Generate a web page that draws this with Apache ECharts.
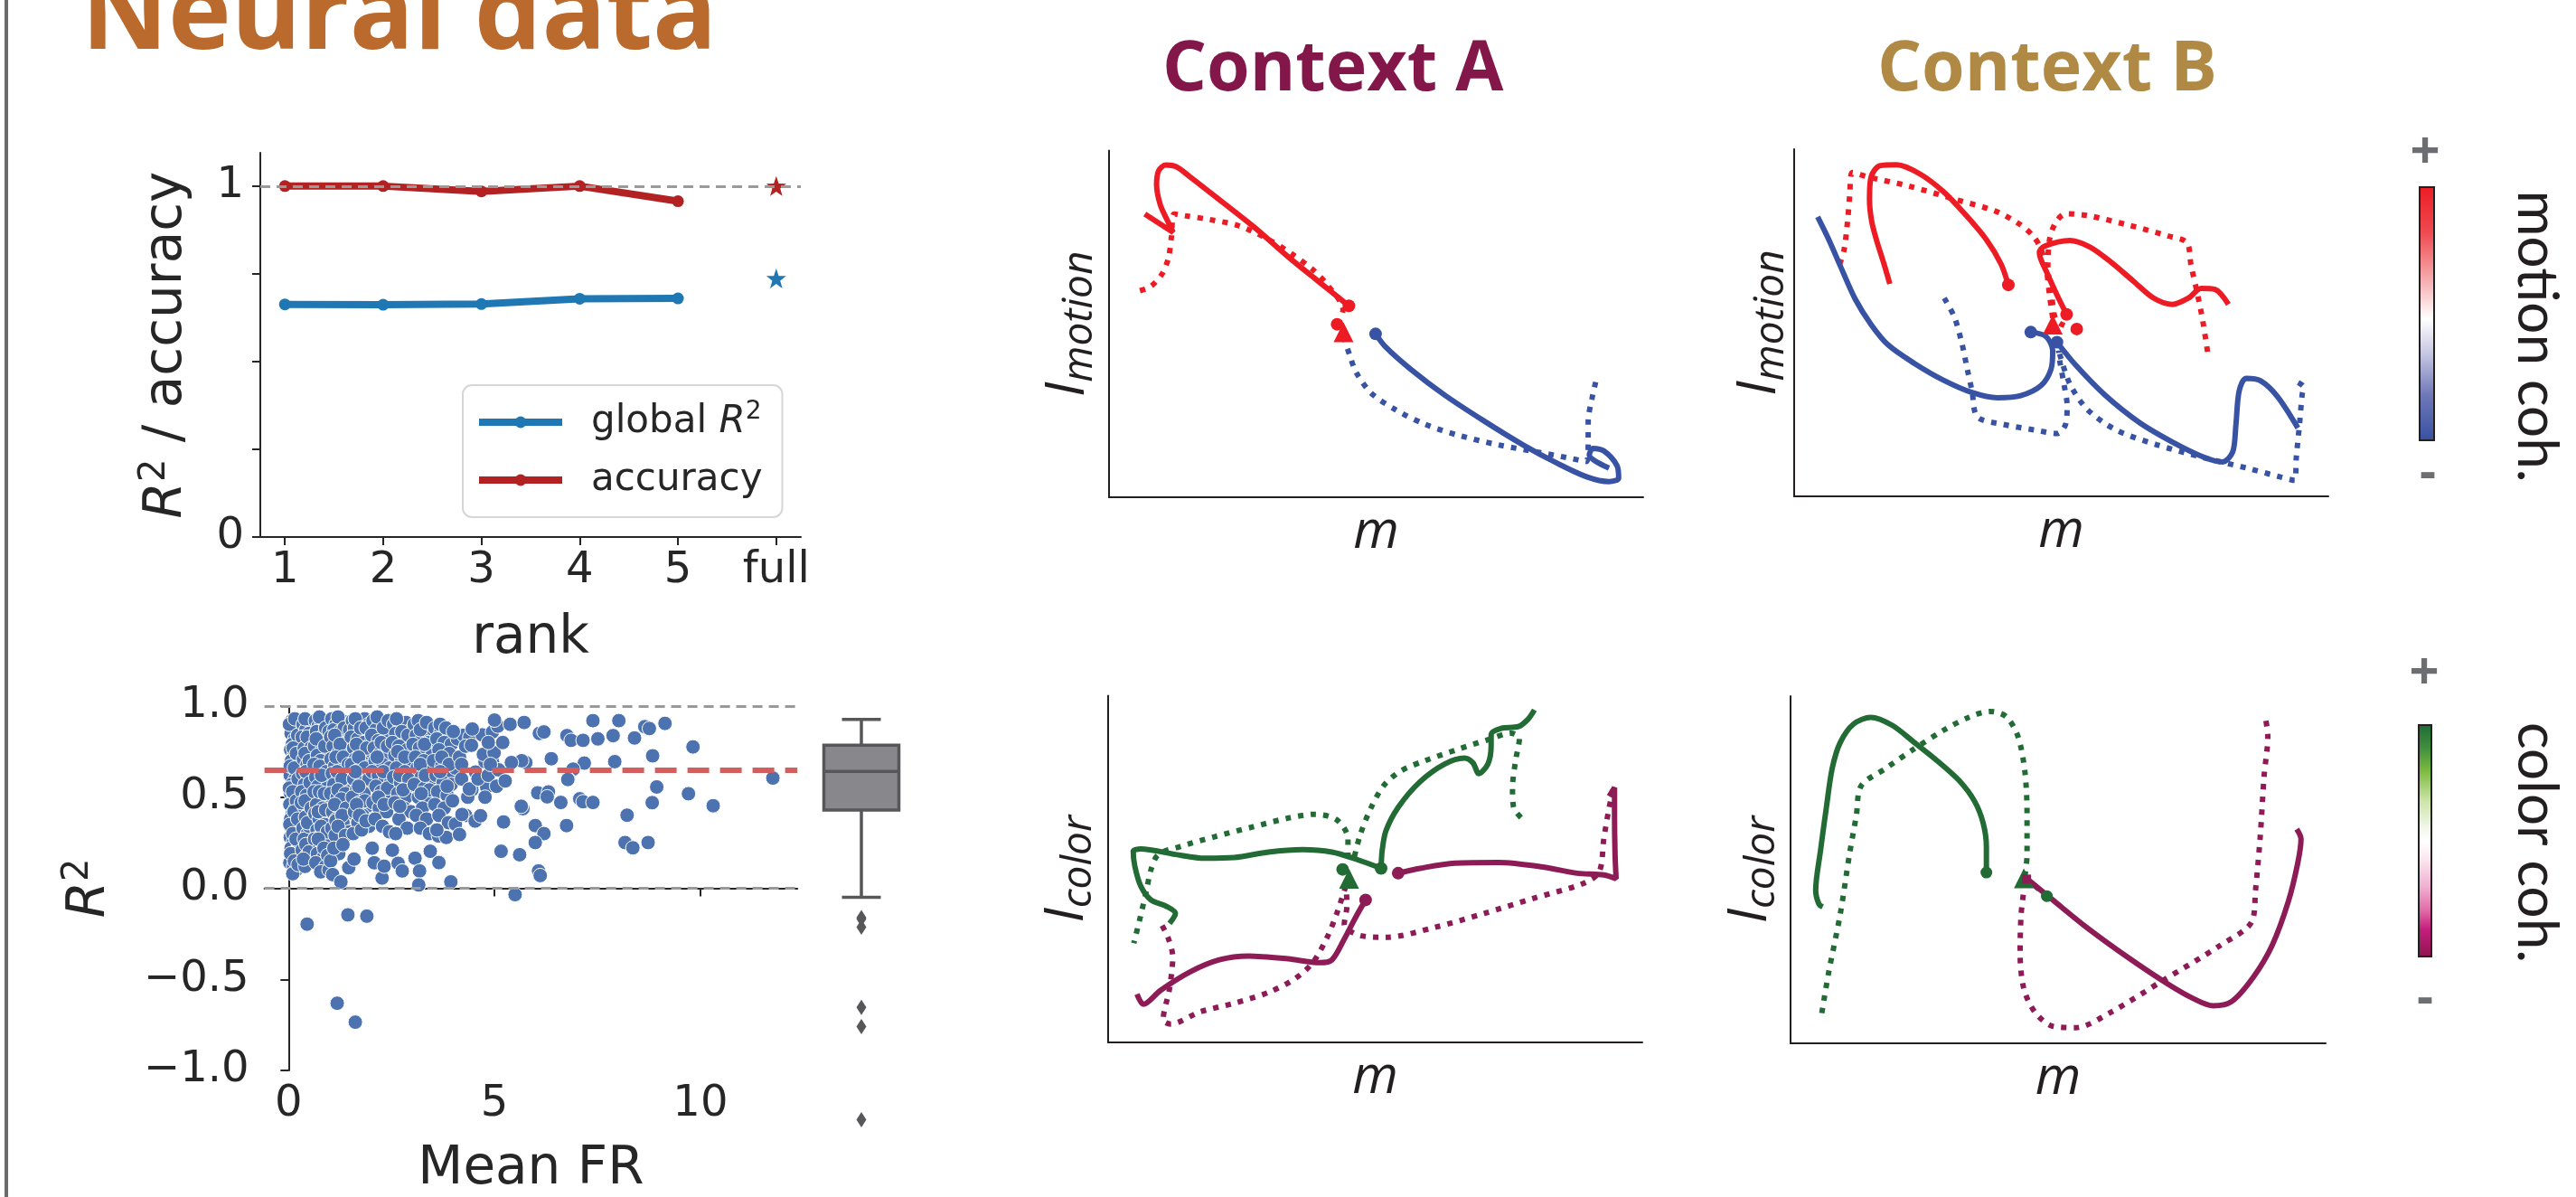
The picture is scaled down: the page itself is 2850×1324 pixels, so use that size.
<!DOCTYPE html>
<html>
<head>
<meta charset="utf-8">
<script src="https://cdn.jsdelivr.net/npm/echarts/dist/echarts.min.js"></script>
<style>
html,body{margin:0;padding:0;background:#fff}
#chart{width:2850px;height:1324px}
</style>
</head>
<body>
<div id="chart"></div>
<script>
// ---------- rank sweep (top-left) ----------
const rankTicks = [1, 2, 3, 4, 5, 6];
const rankLabels = ['1', '2', '3', '4', '5', 'full'];
const ranks = [1, 2, 3, 4, 5];
const globalR2 = [0.663, 0.662, 0.664, 0.679, 0.680];
const accuracy = [1.0, 1.0, 0.985, 1.0, 0.957];
const fullRank = 6;
const fullGlobalR2 = 0.737;
const fullAccuracy = 1.0;
const rankYTicks = [0, 0.25, 0.5, 0.75, 1];
const rankYLabels = [0, 1];

// ---------- per-neuron fit quality (bottom-left): [mean firing rate, R2] ----------
const neuronFits = [
  [0.08,0.92],[0.12,0.88],[0.06,0.85],[0.15,0.82],[0.09,0.79],[0.2,0.9],[0.05,0.76],[0.13,0.73],[0.07,0.7],[0.18,0.68],
  [0.1,0.65],[0.04,0.62],[0.16,0.6],[0.08,0.57],[0.21,0.55],[0.05,0.52],[0.12,0.49],[0.03,0.46],[0.17,0.44],[0.09,0.41],
  [0.05,0.38],[0.14,0.36],[0.07,0.33],[0.2,0.31],[0.04,0.28],[0.11,0.25],[0.06,0.22],[0.16,0.2],[0.08,0.17],[0.03,0.14],
  [0.12,0.12],[0.18,0.1],[0.1,0.08],[0.25,0.86],[0.28,0.78],[0.24,0.71],[0.27,0.63],[0.23,0.5],[0.29,0.42],[0.26,0.34],
  [0.22,0.26],[0.27,0.18],[0.3,0.92],[0.02,0.9],[0.04,0.67],[0.02,0.55],[0.03,0.35],[0.05,0.19],
  [0.15,0.93],[0.22,0.84],[0.11,0.77],[0.19,0.74],[0.14,0.66],[0.23,0.6],[0.1,0.53],[0.19,0.48],[0.13,0.42],[0.22,0.38],
  [0.1,0.3],[0.18,0.27],[0.14,0.15],[0.23,0.13],
  [0.35,0.9],[0.42,0.87],[0.33,0.83],[0.48,0.8],[0.38,0.77],[0.52,0.74],[0.36,0.71],[0.45,0.68],[0.55,0.66],[0.34,0.63],
  [0.47,0.6],[0.39,0.57],[0.58,0.55],[0.32,0.53],[0.44,0.51],[0.53,0.48],[0.37,0.45],[0.49,0.42],[0.41,0.39],[0.56,0.37],
  [0.35,0.33],[0.46,0.3],[0.38,0.27],[0.52,0.24],[0.33,0.21],[0.44,0.18],[0.57,0.15],[0.4,0.12],[0.55,0.91],[0.5,0.85],
  [0.58,0.79],[0.31,0.47],[0.5,0.34],
  [0.4,0.93],[0.45,0.83],[0.54,0.77],[0.4,0.74],[0.5,0.7],[0.42,0.64],[0.52,0.58],[0.4,0.48],[0.55,0.44],[0.46,0.36],
  [0.42,0.24],[0.5,0.2],[0.36,0.16],
  [0.65,0.92],[0.72,0.89],[0.8,0.91],[0.68,0.86],[0.85,0.84],[0.75,0.81],[0.92,0.8],[0.63,0.78],[0.82,0.76],[0.7,0.73],
  [0.95,0.72],[0.78,0.7],[0.62,0.68],[0.88,0.67],[0.73,0.64],[0.97,0.63],[0.66,0.61],[0.84,0.59],[0.71,0.56],[0.93,0.55],
  [0.62,0.53],[0.79,0.51],[0.9,0.48],[0.68,0.46],[0.83,0.44],[0.64,0.41],[0.96,0.4],[0.74,0.38],[0.87,0.35],[0.69,0.32],
  [0.81,0.3],[0.63,0.27],[0.92,0.26],[0.76,0.23],[0.7,0.19],[0.85,0.17],[0.66,0.14],[0.9,0.12],[0.78,0.09],[0.98,0.1],
  [0.75,0.94],[0.9,0.88],[0.98,0.86],[0.67,0.82],[0.88,0.78],[0.76,0.67],[0.92,0.64],[0.8,0.62],[0.75,0.53],[0.87,0.52],
  [0.72,0.42],[0.9,0.43],[0.79,0.34],[0.94,0.31],[0.72,0.27],[0.86,0.22],[0.95,0.18],
  [1.05,0.93],[1.15,0.9],[1.3,0.92],[1.42,0.9],[1.1,0.87],[1.25,0.86],[1.38,0.84],[1.02,0.83],[1.18,0.81],[1.45,0.8],
  [1.08,0.78],[1.3,0.77],[1.2,0.74],[1.4,0.73],[1.03,0.71],[1.27,0.7],[1.12,0.67],[1.35,0.66],[1.47,0.64],[1.06,0.63],
  [1.22,0.61],[1.4,0.59],[1.1,0.57],[1.3,0.55],[1.45,0.53],[1.02,0.52],[1.18,0.5],[1.36,0.48],[1.25,0.45],[1.07,0.42],
  [1.42,0.41],[1.16,0.38],[1.32,0.36],[1.05,0.33],[1.48,0.31],[1.22,0.3],[1.15,0.37],[1.13,0.29],[1.22,0.19],[1.02,0.15],
  [1.07,0.075],[1.27,0.035],[1.46,0.113],
  [1.2,0.94],[1.35,0.88],[1.12,0.84],[1.48,0.87],[1.25,0.79],[1.15,0.72],[1.33,0.72],[1.45,0.68],[1.18,0.64],[1.3,0.6],
  [1.2,0.54],[1.38,0.52],[1.28,0.49],[1.12,0.46],[1.4,0.44],[1.3,0.4],[1.2,0.34],[1.38,0.29],[1.1,0.22],[1.32,0.24],
  [1.55,0.92],[1.7,0.91],[1.85,0.93],[1.95,0.9],[1.6,0.88],[1.78,0.86],[1.9,0.85],[1.52,0.83],[1.68,0.82],[1.83,0.8],
  [1.98,0.79],[1.58,0.77],[1.75,0.75],[1.92,0.73],[1.62,0.71],[1.8,0.69],[1.53,0.68],[1.97,0.67],[1.7,0.65],[1.86,0.62],
  [1.58,0.6],[1.76,0.58],[1.93,0.56],[1.65,0.54],[1.83,0.52],[1.55,0.5],[1.72,0.47],[1.9,0.45],[1.6,0.42],[1.8,0.4],
  [1.68,0.36],[1.95,0.34],[1.57,0.3],[1.77,0.32],[1.59,0.16],[2.03,0.22],[2.08,0.14],
  [1.62,0.93],[1.75,0.88],[1.88,0.88],[1.65,0.79],[1.9,0.77],[1.7,0.72],[1.85,0.66],[1.62,0.64],[1.95,0.6],[1.7,0.56],
  [1.85,0.48],[1.65,0.46],[1.72,0.4],[1.88,0.37],
  [2.05,0.92],[2.2,0.9],[2.35,0.91],[2.45,0.88],[2.12,0.87],[2.28,0.85],[2.02,0.84],[2.4,0.83],[2.18,0.81],[2.32,0.79],
  [2.08,0.77],[2.45,0.76],[2.22,0.74],[2.38,0.72],[2.1,0.7],[2.28,0.68],[2.45,0.66],[2.03,0.64],[2.18,0.62],[2.35,0.6],
  [2.48,0.58],[2.12,0.56],[2.25,0.53],[2.42,0.5],[2.05,0.47],[2.2,0.44],[2.38,0.42],[2.1,0.38],[2.28,0.34],[2.45,0.31],
  [2.27,0.056],[2.32,0.121],[2.52,0.209],[2.66,0.137],[2.76,0.095],
  [2.15,0.94],[2.3,0.88],[2.42,0.92],[2.25,0.8],[2.4,0.78],[2.15,0.72],[2.3,0.64],[2.4,0.55],[2.18,0.5],[2.32,0.46],
  [2.55,0.9],[2.7,0.88],[2.85,0.91],[2.98,0.87],[2.6,0.85],[2.78,0.83],[2.92,0.81],[2.52,0.8],[2.68,0.78],[2.88,0.76],
  [2.58,0.73],[2.75,0.71],[2.95,0.7],[2.62,0.66],[2.82,0.64],[2.55,0.61],[2.72,0.58],[2.9,0.56],[2.65,0.52],[2.85,0.5],
  [2.58,0.47],[2.8,0.44],[2.97,0.42],[2.68,0.38],[2.88,0.33],[2.6,0.3],
  [2.62,0.93],[2.75,0.86],[2.9,0.84],[2.65,0.75],[2.82,0.72],[2.7,0.62],[2.92,0.6],[2.78,0.54],[2.7,0.45],
  [3.05,0.9],[3.15,0.92],[3.3,0.88],[3.45,0.86],[3.1,0.84],[3.25,0.82],[3.4,0.8],[3.02,0.79],[3.18,0.77],[3.35,0.75],
  [3.48,0.73],[3.08,0.72],[3.28,0.7],[3.12,0.66],[3.38,0.65],[3.22,0.61],[3.45,0.6],[3.05,0.57],[3.3,0.55],[3.15,0.5],
  [3.4,0.47],[3.25,0.44],[3.1,0.4],[3.35,0.38],[3.2,0.33],[3.42,0.3],[3.07,0.165],[3.18,0.095],[3.16,0.018],[3.44,0.203],
  [3.65,0.141],[3.94,0.035],[3.64,0.287],[3.83,0.279],
  [3.2,0.87],[3.35,0.91],[3.3,0.79],[3.2,0.68],[3.32,0.62],[3.42,0.54],[3.22,0.52],
  [3.55,0.88],[3.7,0.86],[3.85,0.84],[3.6,0.82],[3.78,0.8],[3.95,0.79],[4.1,0.82],[4.25,0.84],[4.4,0.83],[3.65,0.76],
  [3.9,0.74],[3.52,0.7],[3.72,0.67],[3.88,0.63],[4.05,0.66],[3.58,0.62],[3.75,0.58],[3.95,0.57],[4.2,0.6],[3.62,0.53],
  [3.85,0.51],[3.55,0.46],[3.78,0.44],[3.98,0.48],[3.65,0.4],[3.88,0.36],[3.6,0.32],[4.3,0.4],[4.45,0.54],[4.35,0.5],
  [4.05,0.352],[4.15,0.295],[4.21,0.405],[4.53,0.369],[4.66,0.398],
  [3.68,0.9],[3.82,0.88],[3.72,0.72],[3.9,0.68],[3.68,0.64],[3.85,0.56],[4.0,0.86],[4.15,0.72],[4.3,0.78],[4.2,0.68],
  [4.39,0.545],[4.54,0.638],[4.77,0.695],[4.95,0.695],[4.73,0.735],[4.99,0.744],[4.44,0.785],[4.7,0.842],[4.46,0.874],[4.95,0.858],
  [5.08,0.89],[4.81,0.556],[4.77,0.5],[4.6,0.6],[4.85,0.62],[4.85,0.8],[5.0,0.923],[5.1,0.65],[4.9,0.68],[5.2,0.8],[5.05,0.56],
  [5.38,0.9],[5.72,0.91],[6.09,0.85],[6.2,0.858],[6.76,0.838],[6.86,0.812],[7.15,0.812],[7.51,0.82],[7.88,0.838],[8.02,0.92],
  [7.39,0.92],[8.4,0.825],[8.65,0.887],[8.76,0.877],[9.14,0.905],[9.82,0.776],[8.84,0.727],[7.92,0.695],[7.18,0.687],[6.91,0.654],
  [6.79,0.6],[6.38,0.711],[5.76,0.69],[5.66,0.7],[5.41,0.69],[5.26,0.589],[6.05,0.524],[6.31,0.529],[6.28,0.502],[6.61,0.471],
  [7.07,0.491],[7.15,0.475],[7.39,0.471],[5.69,0.437],[5.65,0.45],[8.94,0.556],[8.83,0.47],[9.71,0.519],[10.31,0.453],[11.76,0.605],
  [8.22,0.401],[5.22,0.364],[5.99,0.344],[6.2,0.3],[6.75,0.344],[5.99,0.251],[5.16,0.203],[5.61,0.184],[8.17,0.251],[8.36,0.222],
  [8.73,0.251],[6.07,0.095],[6.11,0.07],[5.5,-0.035],[6.78,0.597],
  [0.45,-0.197],[1.44,-0.146],[1.9,-0.153],[1.18,-0.631],[1.62,-0.735]
];
const meanFRTicks = [0, 5, 10];
const medianR2 = 0.646;
// whisker low, Q1, median, Q3, whisker high
const r2BoxStats = [-0.035, 0.437, 0.646, 0.788, 0.928];
const r2Outliers = [-0.146, -0.153, -0.197, -0.631, -0.735, -1.24];

// ---------- latent trajectories, context A, motion input ----------
const aMotionRedSolid = [[44.9,55.2],[39.0,62.5],[33.5,69.4],[27.1,78.0],[20.6,85.9],[15.1,92.5],[12.6,95.3],[10.6,95.8],[9.3,94.2],[8.9,90.2],[9.6,84.3],[11.0,79.6],[12.0,76.4],[6.7,81.7]];
const aMotionRedDotted = [[42.7,49.9],[43.8,54.0],[40.8,61.4],[38.1,65.7],[34.4,70.0],[29.8,74.4],[24.3,78.3],[18.8,80.1],[14.2,81.2],[12.2,81.7],[11.7,75.3],[11.1,68.9],[9.8,64.1],[7.6,60.6],[5.0,59.3]];
const aMotionBlueSolid = [[49.9,47.1],[51.8,43.3],[56.4,37.0],[62.8,29.5],[70.2,22.0],[77.5,15.1],[83.9,9.8],[89.4,5.9],[93.6,4.5],[95.4,5.5],[95.1,9.1],[92.7,13.3],[90.6,14.1],[89.9,12.2],[93.6,8.4]];
const aMotionBlueDotted = [[43.9,46.3],[45.0,41.2],[46.3,35.9],[49.1,30.0],[53.7,25.2],[59.2,21.0],[65.6,17.8],[72.9,15.1],[80.3,13.0],[85.8,11.4],[89.4,10.3],[89.7,15.7],[89.7,22.0],[90.4,28.4],[91.1,33.2]];
const aMotionRedDots = [[44.9,55.2],[42.7,49.9]];
const aMotionRedTriangle = [[43.9,47.6]];
const aMotionBlueDots = [[49.9,47.1]];

// ---------- context B, motion input ----------
const bMotionRedSolid1 = [[40.1,60.9],[38.7,67.0],[36.0,73.9],[32.2,80.9],[27.9,87.8],[23.5,92.9],[19.2,95.5],[16.0,95.2],[14.4,92.0],[14.1,85.6],[14.5,79.3],[15.4,73.9],[16.8,67.0],[17.9,61.2]];
const bMotionRedSolid2 = [[51.0,52.4],[49.2,58.0],[47.5,63.8],[45.9,70.2],[46.8,72.0],[51.6,73.7],[55.4,71.8],[59.2,67.6],[63.5,62.0],[67.3,57.1],[70.8,55.3],[73.8,57.1],[76.2,59.9],[78.8,59.6],[81.3,55.3]];
const bMotionRedDotted1 = [[48.4,51.4],[47.8,58.0],[47.3,64.4],[46.2,71.3],[44.6,75.2],[41.9,78.7],[37.6,82.2],[30.0,85.6],[21.4,89.4],[13.8,92.0],[10.9,93.3],[10.4,86.7],[10.0,79.3],[9.3,70.7],[8.2,65.6]];
const bMotionRedDotted2 = [[52.9,48.2],[49.2,50.5],[48.2,58.0],[47.5,66.5],[47.8,73.9],[48.9,78.7],[50.8,81.4],[54.9,80.9],[62.4,78.2],[70.0,75.0],[73.5,73.1],[74.3,66.5],[75.4,59.0],[76.5,50.5],[77.5,40.4]];
const bMotionBlueSolid1 = [[44.3,47.3],[47.1,46.1],[48.4,42.0],[48.1,36.7],[46.2,31.9],[42.4,29.0],[38.1,28.4],[33.3,29.9],[27.9,33.5],[22.5,38.3],[17.6,43.6],[14.4,49.5],[11.4,56.9],[8.6,66.5],[6.5,73.9],[4.4,80.5]];
const bMotionBlueSolid2 = [[49.2,44.4],[52.7,37.8],[58.1,29.3],[64.6,21.3],[71.1,15.4],[76.5,11.4],[80.2,9.9],[82.1,12.8],[82.7,20.7],[83.3,30.3],[84.6,34.0],[87.3,33.3],[90.5,28.7],[94.3,19.7]];
const bMotionBlueDotted1 = [[28.1,57.1],[30.0,51.6],[31.4,44.1],[32.4,36.7],[33.3,30.3],[34.3,22.9],[39.2,20.7],[45.1,19.1],[49.2,18.1],[50.8,20.7],[51.1,26.1],[50.5,32.4],[49.8,38.3],[49.5,42.0]];
const bMotionBlueDotted2 = [[49.7,41.0],[51.6,32.4],[54.9,25.0],[60.3,19.1],[67.8,14.9],[76.5,11.2],[85.1,8.0],[93.7,4.6],[94.0,11.2],[94.6,20.7],[95.1,29.3],[95.4,31.4],[94.1,33.0]];
const bMotionRedDots = [[51.0,52.4],[52.9,48.2],[40.1,60.9]];
const bMotionRedTriangle = [[48.4,49.5]];
const bMotionBlueDots = [[44.3,47.3],[49.2,44.4]];

// ---------- context A, color input ----------
const aColorGreenSolid1 = [[51.1,50.2],[46.5,52.8],[41.9,54.9],[36.4,55.6],[30.0,54.9],[23.6,53.3],[18.1,53.1],[12.6,54.2],[6.1,55.8],[4.7,55.1],[5.0,50.8],[6.1,45.1],[8.0,41.1],[10.7,39.4],[12.6,37.2],[11.5,34.3]];
const aColorGreenSolid2 = [[51.1,50.2],[51.3,55.3],[52.0,61.0],[54.3,67.8],[58.4,75.2],[63.0,80.3],[66.7,82.0],[68.3,80.6],[69.4,77.5],[71.1,80.3],[71.7,85.5],[71.7,88.9],[73.6,90.6],[76.8,91.1],[78.6,93.2],[79.8,95.9]];
const aColorGreenDotted1 = [[43.9,49.9],[44.9,54.2],[44.9,58.8],[42.8,64.2],[38.7,65.8],[33.7,64.7],[27.2,62.2],[19.9,59.3],[13.5,56.5],[9.4,54.2],[8.0,49.7],[7.2,44.0],[6.0,36.0],[4.8,28.6]];
const aColorGreenDotted2 = [[46.1,53.6],[47.2,59.9],[49.1,67.3],[51.6,74.1],[54.8,78.3],[59.4,81.3],[65.8,84.7],[71.3,87.4],[75.4,89.2],[77.0,87.7],[76.3,81.5],[75.7,73.5],[75.9,67.8],[77.7,64.2]];
const aColorPurpleSolid1 = [[54.3,48.8],[58.4,50.2],[64.9,51.7],[73.1,51.9],[81.4,50.6],[87.8,48.8],[92.8,48.3],[95.1,47.2],[94.9,54.2],[94.8,65.6],[94.8,73.5],[93.8,71.0]];
const aColorPurpleSolid2 = [[48.2,41.1],[46.3,36.0],[44.2,29.8],[41.9,23.8],[39.6,23.0],[33.7,24.1],[26.3,24.9],[20.8,23.8],[15.3,20.3],[9.8,15.0],[6.6,11.0],[5.4,13.9]];
const aColorPurpleDotted1 = [[44.5,46.3],[44.7,39.4],[44.2,34.0],[47.0,30.9],[52.0,30.3],[61.2,33.2],[70.4,37.2],[79.5,41.5],[88.7,45.7],[91.9,49.1],[92.8,58.8],[93.8,67.8],[94.4,71.8]];
const aColorPurpleDotted2 = [[44.5,45.1],[42.8,37.2],[41.0,30.3],[38.3,23.0],[35.0,18.4],[30.0,14.4],[23.6,11.3],[17.2,8.8],[11.7,5.3],[10.3,6.5],[11.5,15.6],[12.1,24.7],[11.2,30.3],[10.0,34.0]];
const aColorGreenDots = [[43.9,49.9],[51.1,50.2]];
const aColorGreenTriangle = [[45.1,47.2]];
const aColorPurpleDots = [[54.3,48.8],[48.2,41.1]];

// ---------- context B, color input ----------
const bColorGreenSolid = [[36.6,49.2],[36.6,56.6],[36.0,63.4],[34.4,69.7],[31.5,75.7],[27.4,81.4],[23.1,86.7],[19.0,91.6],[15.0,93.9],[11.8,92.0],[9.3,86.7],[7.8,79.3],[6.7,68.0],[5.6,55.5],[4.7,44.1],[5.3,40.1],[6.0,39.3]];
const bColorGreenDotted = [[43.8,48.1],[44.2,54.3],[44.2,65.7],[43.8,78.2],[42.5,88.4],[40.3,94.1],[37.3,95.6],[33.3,93.9],[28.5,90.1],[23.1,84.8],[17.7,79.1],[13.2,74.2],[12.3,65.7],[11.0,54.3],[9.3,37.3],[7.1,20.2],[5.8,8.3]];
const bColorGreenShort = [[43.8,47.8],[47.9,42.4]];
const bColorPurpleSolid = [[44.1,47.5],[49.0,41.3],[55.4,33.3],[63.0,24.8],[70.6,17.0],[75.4,12.8],[79.0,10.8],[82.4,12.0],[86.5,19.1],[90.0,28.2],[93.0,40.7],[94.8,52.0],[95.4,58.9],[94.6,61.7]];
const bColorPurpleDotted = [[43.8,46.4],[43.1,37.3],[42.9,25.9],[43.6,15.7],[45.7,8.9],[49.0,4.9],[53.3,4.5],[59.8,8.9],[69.5,18.0],[80.3,28.2],[86.2,35.0],[86.9,44.1],[87.8,60.0],[88.5,77.0],[89.2,88.4],[88.7,94.1]];
const bColorGreenDots = [[36.6,49.2],[47.9,42.4]];
const bColorGreenTriangle = [[43.6,47.5]];
const bColorPurpleMarks = [[44.1,47.3]];

// ---------- styling ----------
const MPL_FONT = 'DejaVu Sans';
const SANS = 'Open Sans';
const INK = '#262626';
const RED = '#ed1c24', BLUE = '#3953a4', GREEN = '#236b35', PURPLE = '#8d1b56';
const STAR = 'path://M0,-10L2.35,-3.24L9.51,-3.09L3.8,1.24L5.88,8.09L0,4L-5.88,8.09L-3.8,1.24L-9.51,-3.09L-2.35,-3.24Z';

const chart = echarts.init(document.getElementById('chart'), null, { renderer: 'canvas' });

function trajAxes(grid, yName) {
  const x = {
    gridIndex: grid, type: 'value', min: 0, max: 100,
    axisLine: { show: true, lineStyle: { color: '#231f20', width: 2 } },
    axisTick: { show: false }, axisLabel: { show: false }, splitLine: { show: false },
    name: 'm', nameLocation: 'middle', nameGap: 10,
    nameTextStyle: { fontFamily: SANS, fontStyle: 'italic', fontSize: 58, color: '#231f20' }
  };
  const y = {
    gridIndex: grid, type: 'value', min: 0, max: 100,
    axisLine: { show: true, lineStyle: { color: '#231f20', width: 2 } },
    axisTick: { show: false }, axisLabel: { show: false }, splitLine: { show: false },
    name: '{I|I}{s|' + yName + '}', nameLocation: 'middle', nameGap: 9,
    nameTextStyle: {
      color: '#231f20',
      rich: {
        I: { fontFamily: SANS, fontStyle: 'italic', fontSize: 60, lineHeight: 72, color: '#231f20' },
        s: { fontFamily: SANS, fontStyle: 'italic', fontSize: 46, lineHeight: 46, verticalAlign: 'bottom', color: '#231f20' }
      }
    }
  };
  return [x, y];
}

function traj(axis, data, color, dotted) {
  return {
    type: 'line', xAxisIndex: axis, yAxisIndex: axis, data: data,
    smooth: 0.3, symbol: 'none', silent: true, z: 3,
    lineStyle: { color: color, width: 6, type: dotted ? [6, 8] : 'solid', cap: 'butt', opacity: 1 }
  };
}
function marks(axis, data, color, symbol, size) {
  return {
    type: 'scatter', xAxisIndex: axis, yAxisIndex: axis, data: data,
    symbol: symbol, symbolSize: size, silent: true, z: 4,
    itemStyle: { color: color, opacity: 1 }
  };
}

const [ax3x, ax3y] = trajAxes(3, 'motion');
const [ax4x, ax4y] = trajAxes(4, 'motion');
const [ax5x, ax5y] = trajAxes(5, 'color');
const [ax6x, ax6y] = trajAxes(6, 'color');
ax4y.nameGap = 2;
ax6y.nameGap = 8;

const option = {
  animation: false,
  backgroundColor: '#ffffff',
  title: [
    { text: 'Neural data', left: 90, top: -39, padding: 0,
      textStyle: { fontFamily: SANS, fontWeight: 'bold', fontSize: 118, lineHeight: 118, color: '#ba6a2c' } },
    { text: 'Context A', left: 1286, top: 40, padding: 0,
      textStyle: { fontFamily: SANS, fontWeight: 'bold', fontSize: 77, lineHeight: 77, color: '#84174a' } },
    { text: 'Context B', left: 2077, top: 40, padding: 0,
      textStyle: { fontFamily: SANS, fontWeight: 'bold', fontSize: 77, lineHeight: 77, color: '#b08a45' } }
  ],
  grid: [
    { left: 288, top: 169, width: 598, height: 425 },
    { left: 292.6, top: 781, width: 589.6, height: 408.5 },
    { left: 903, top: 781, width: 100, height: 469.8 },
    { left: 1227, top: 166.5, width: 591, height: 383.5 },
    { left: 1985, top: 165, width: 591, height: 384 },
    { left: 1226, top: 769.5, width: 591, height: 383.5 },
    { left: 1981, top: 770, width: 592, height: 384 }
  ],
  legend: {
    orient: 'vertical', left: 512, top: 426,
    padding: [16, 22, 16, 14], itemWidth: 92, itemHeight: 16, itemGap: 14,
    backgroundColor: 'rgba(255,255,255,0.85)', borderColor: '#d6d6d6', borderWidth: 2, borderRadius: 10,
    lineStyle: { width: 8 },
    data: ['global R2', 'accuracy'],
    formatter: function (name) { return name === 'accuracy' ? 'accuracy' : 'global {r|R}{p|2}'; },
    textStyle: {
      fontFamily: MPL_FONT, fontSize: 42, lineHeight: 50, color: INK, padding: [0, 0, 0, 27],
      rich: {
        r: { fontFamily: MPL_FONT, fontStyle: 'italic', fontSize: 42, lineHeight: 50, color: INK },
        p: { fontFamily: MPL_FONT, fontSize: 28, lineHeight: 30, verticalAlign: 'top', color: INK }
      }
    }
  },
  xAxis: [
    { gridIndex: 0, type: 'value', min: 0.75, max: 6.25,
      axisLine: { show: true, lineStyle: { color: INK, width: 2 } },
      axisTick: { show: true, customValues: rankTicks, length: 9, lineStyle: { color: INK, width: 2 } },
      axisLabel: { customValues: rankTicks, formatter: function (v) { return rankLabels[rankTicks.indexOf(v)]; },
        fontFamily: MPL_FONT, fontSize: 48, color: INK, margin: 14 },
      splitLine: { show: false },
      name: 'rank', nameLocation: 'middle', nameGap: 84,
      nameTextStyle: { fontFamily: MPL_FONT, fontSize: 58, color: INK } },
    { gridIndex: 1, type: 'value', min: -0.586, max: 12.355,
      axisLine: { show: true, lineStyle: { color: INK, width: 2 } },
      axisTick: { show: true, customValues: meanFRTicks, length: 9, lineStyle: { color: INK, width: 2 } },
      axisLabel: { customValues: meanFRTicks, fontFamily: MPL_FONT, fontSize: 48, color: INK, margin: 14 },
      splitLine: { show: false },
      name: 'Mean FR', nameLocation: 'middle', nameGap: 81,
      nameTextStyle: { fontFamily: MPL_FONT, fontSize: 58, color: INK } },
    { gridIndex: 2, type: 'category', data: ['R2'], show: false },
    ax3x, ax4x, ax5x, ax6x
  ],
  yAxis: [
    { gridIndex: 0, type: 'value', min: 0, max: 1.095,
      axisLine: { show: true, lineStyle: { color: INK, width: 2 } },
      axisTick: { show: true, customValues: rankYTicks, length: 9, lineStyle: { color: INK, width: 2 } },
      axisLabel: { customValues: rankYLabels, fontFamily: MPL_FONT, fontSize: 48, color: INK, margin: 18 },
      splitLine: { show: false },
      name: '{r|R}{p|2} / accuracy', nameLocation: 'middle', nameGap: 70,
      nameTextStyle: { fontFamily: MPL_FONT, fontSize: 58, lineHeight: 66, color: INK,
        rich: {
          r: { fontFamily: MPL_FONT, fontStyle: 'italic', fontSize: 58, lineHeight: 66, color: INK },
          p: { fontFamily: MPL_FONT, fontSize: 40, lineHeight: 40, verticalAlign: 'top', color: INK }
        } } },
    { gridIndex: 1, type: 'value', min: -1, max: 1, interval: 0.5,
      axisLine: { show: true, lineStyle: { color: INK, width: 2 } },
      axisTick: { show: true, length: 9, lineStyle: { color: INK, width: 2 } },
      axisLabel: { formatter: function (v) { return (v < 0 ? '\u2212' : '') + Math.abs(v).toFixed(1); },
        fontFamily: MPL_FONT, fontSize: 48, color: INK, margin: 17 },
      splitLine: { show: false },
      name: '{r|R}{p|2}', nameLocation: 'middle', nameGap: 160,
      nameTextStyle: { fontFamily: MPL_FONT, fontSize: 58, lineHeight: 66, color: INK,
        rich: {
          r: { fontFamily: MPL_FONT, fontStyle: 'italic', fontSize: 58, lineHeight: 66, color: INK },
          p: { fontFamily: MPL_FONT, fontSize: 40, lineHeight: 40, verticalAlign: 'top', color: INK }
        } } },
    { gridIndex: 2, type: 'value', min: -1.3, max: 1, show: false },
    ax3y, ax4y, ax5y, ax6y
  ],
  series: [
    // rank sweep
    { name: 'global R2', type: 'line', xAxisIndex: 0, yAxisIndex: 0,
      data: ranks.map(function (r, i) { return [r, globalR2[i]]; }),
      symbol: 'circle', symbolSize: 13, z: 3,
      lineStyle: { color: '#1f77b4', width: 8 }, itemStyle: { color: '#1f77b4' } },
    { name: 'accuracy', type: 'line', xAxisIndex: 0, yAxisIndex: 0,
      data: ranks.map(function (r, i) { return [r, accuracy[i]]; }),
      symbol: 'circle', symbolSize: 13, z: 3,
      lineStyle: { color: '#b22222', width: 8 }, itemStyle: { color: '#b22222' } },
    { type: 'scatter', xAxisIndex: 0, yAxisIndex: 0, data: [[fullRank, fullGlobalR2]],
      symbol: STAR, symbolSize: 22, itemStyle: { color: '#1f77b4', opacity: 1 }, z: 3 },
    { type: 'scatter', xAxisIndex: 0, yAxisIndex: 0, data: [[fullRank, fullAccuracy]],
      symbol: STAR, symbolSize: 22, itemStyle: { color: '#b22222', opacity: 1 }, z: 3 },
    { type: 'line', xAxisIndex: 0, yAxisIndex: 0, data: [], z: 5,
      markLine: { silent: true, symbol: 'none', label: { show: false },
        lineStyle: { color: '#9a9a9a', width: 3, type: [11, 7] }, data: [{ yAxis: 1 }] } },

    // per-neuron R2 vs firing rate: reference lines under the points
    { type: 'line', xAxisIndex: 1, yAxisIndex: 1, data: [], z: 1,
      markLine: { silent: true, symbol: 'none', label: { show: false },
        data: [
          { yAxis: 1, lineStyle: { color: '#999999', width: 3, type: [11, 7] } },
          { yAxis: 0, lineStyle: { color: '#999999', width: 3, type: [11, 7] } },
          { yAxis: medianR2, lineStyle: { color: '#d45e5d', width: 6, type: [24, 12] } }
        ] } },
    { type: 'scatter', xAxisIndex: 1, yAxisIndex: 1, data: neuronFits, z: 2,
      symbol: 'circle', symbolSize: 16, silent: true,
      itemStyle: { color: '#4c72b0', borderColor: '#ffffff', borderWidth: 1, opacity: 1 } },

    // box plot of the same R2 values
    { type: 'custom', xAxisIndex: 2, yAxisIndex: 2, silent: true, z: 2,
      data: [[0].concat(r2BoxStats)],
      renderItem: function (params, api) {
        const lo = api.coord([api.value(0), api.value(1)]);
        const q1 = api.coord([api.value(0), api.value(2)]);
        const md = api.coord([api.value(0), api.value(3)]);
        const q3 = api.coord([api.value(0), api.value(4)]);
        const hi = api.coord([api.value(0), api.value(5)]);
        const band = api.size([1, 0])[0];
        const cx = md[0], hw = band * 0.415, cw = band * 0.215;
        const st = { stroke: '#57575a', lineWidth: 3.5, fill: null };
        return { type: 'group', children: [
          { type: 'line', shape: { x1: cx, y1: hi[1], x2: cx, y2: q3[1] }, style: st },
          { type: 'line', shape: { x1: cx, y1: q1[1], x2: cx, y2: lo[1] }, style: st },
          { type: 'line', shape: { x1: cx - cw, y1: hi[1], x2: cx + cw, y2: hi[1] }, style: st },
          { type: 'line', shape: { x1: cx - cw, y1: lo[1], x2: cx + cw, y2: lo[1] }, style: st },
          { type: 'rect', shape: { x: cx - hw, y: q3[1], width: 2 * hw, height: q1[1] - q3[1] },
            style: { fill: '#88888c', stroke: '#57575a', lineWidth: 3.5 } },
          { type: 'line', shape: { x1: cx - hw, y1: md[1], x2: cx + hw, y2: md[1] }, style: st }
        ] };
      } },
    { type: 'scatter', xAxisIndex: 2, yAxisIndex: 2, silent: true, z: 3,
      data: r2Outliers.map(function (v) { return [0, v]; }),
      symbol: 'diamond', symbolSize: [11, 17], itemStyle: { color: '#57575a', opacity: 1 } },

    // context A, motion
    traj(3, aMotionRedDotted, RED, true),
    traj(3, aMotionBlueDotted, BLUE, true),
    traj(3, aMotionRedSolid, RED, false),
    traj(3, aMotionBlueSolid, BLUE, false),
    marks(3, aMotionRedDots, RED, 'circle', 14),
    marks(3, aMotionBlueDots, BLUE, 'circle', 14),
    marks(3, aMotionRedTriangle, RED, 'triangle', 22),

    // context B, motion
    traj(4, bMotionRedDotted1, RED, true),
    traj(4, bMotionRedDotted2, RED, true),
    traj(4, bMotionBlueDotted1, BLUE, true),
    traj(4, bMotionBlueDotted2, BLUE, true),
    traj(4, bMotionRedSolid1, RED, false),
    traj(4, bMotionRedSolid2, RED, false),
    traj(4, bMotionBlueSolid1, BLUE, false),
    traj(4, bMotionBlueSolid2, BLUE, false),
    marks(4, bMotionRedDots, RED, 'circle', 14),
    marks(4, bMotionBlueDots, BLUE, 'circle', 14),
    marks(4, bMotionRedTriangle, RED, 'triangle', 22),

    // context A, color
    traj(5, aColorGreenDotted1, GREEN, true),
    traj(5, aColorGreenDotted2, GREEN, true),
    traj(5, aColorPurpleDotted1, PURPLE, true),
    traj(5, aColorPurpleDotted2, PURPLE, true),
    traj(5, aColorGreenSolid1, GREEN, false),
    traj(5, aColorGreenSolid2, GREEN, false),
    traj(5, aColorPurpleSolid1, PURPLE, false),
    traj(5, aColorPurpleSolid2, PURPLE, false),
    marks(5, aColorGreenDots, GREEN, 'circle', 14),
    marks(5, aColorPurpleDots, PURPLE, 'circle', 14),
    marks(5, aColorGreenTriangle, GREEN, 'triangle', 22),

    // context B, color
    traj(6, bColorGreenDotted, GREEN, true),
    traj(6, bColorGreenShort, GREEN, true),
    traj(6, bColorPurpleDotted, PURPLE, true),
    traj(6, bColorGreenSolid, GREEN, false),
    traj(6, bColorPurpleSolid, PURPLE, false),
    marks(6, bColorGreenDots, GREEN, 'circle', 13),
    marks(6, bColorGreenTriangle, GREEN, 'triangle', 22),
    marks(6, bColorPurpleMarks, PURPLE, 'rect', 10)
  ],
  graphic: [
    { type: 'rect', silent: true, shape: { x: 5, y: 0, width: 4, height: 1324 }, style: { fill: '#6b6b6b' } },
    // motion coherence colour bar
    { type: 'rect', silent: true, shape: { x: 2677, y: 207, width: 16, height: 280 },
      style: { stroke: '#231f20', lineWidth: 2,
        fill: new echarts.graphic.LinearGradient(0, 0, 0, 1, [
          { offset: 0, color: '#ec1c24' }, { offset: 0.18, color: '#ee4a50' }, { offset: 0.36, color: '#f5a8ab' },
          { offset: 0.52, color: '#ffffff' }, { offset: 0.66, color: '#c4c5e2' }, { offset: 0.82, color: '#6f78b8' },
          { offset: 1, color: '#3651a1' }]) } },
    { type: 'text', silent: true, x: 2683, y: 169,
      style: { text: '+', fontFamily: SANS, fontWeight: 'bold', fontSize: 58, fill: '#6d6e71', align: 'center', verticalAlign: 'middle' } },
    { type: 'text', silent: true, x: 2686, y: 525,
      style: { text: '-', fontFamily: SANS, fontWeight: 'bold', fontSize: 56, fill: '#6d6e71', align: 'center', verticalAlign: 'middle' } },
    { type: 'text', silent: true, x: 2806, y: 372, rotation: -Math.PI / 2,
      style: { text: 'motion coh.', fontFamily: 'Lato', fontSize: 62, fill: '#231f20', align: 'center', verticalAlign: 'middle' } },
    // colour coherence colour bar
    { type: 'rect', silent: true, shape: { x: 2676, y: 802, width: 14, height: 256 },
      style: { stroke: '#231f20', lineWidth: 2,
        fill: new echarts.graphic.LinearGradient(0, 0, 0, 1, [
          { offset: 0, color: '#1e6b35' }, { offset: 0.1, color: '#3f8e3e' }, { offset: 0.2, color: '#7cba3e' },
          { offset: 0.33, color: '#cde5a8' }, { offset: 0.45, color: '#f3f8ee' }, { offset: 0.5, color: '#ffffff' },
          { offset: 0.58, color: '#fce6f0' }, { offset: 0.7, color: '#efafcf' }, { offset: 0.8, color: '#e06aa6' },
          { offset: 0.88, color: '#c51d7d' }, { offset: 1, color: '#8e1550' }]) } },
    { type: 'text', silent: true, x: 2682, y: 745,
      style: { text: '+', fontFamily: SANS, fontWeight: 'bold', fontSize: 58, fill: '#6d6e71', align: 'center', verticalAlign: 'middle' } },
    { type: 'text', silent: true, x: 2683, y: 1106,
      style: { text: '-', fontFamily: SANS, fontWeight: 'bold', fontSize: 56, fill: '#6d6e71', align: 'center', verticalAlign: 'middle' } },
    { type: 'text', silent: true, x: 2806, y: 932, rotation: -Math.PI / 2,
      style: { text: 'color coh.', fontFamily: 'Lato', fontSize: 62, fill: '#231f20', align: 'center', verticalAlign: 'middle' } }
  ]
};

chart.setOption(option);
</script>
</body>
</html>
